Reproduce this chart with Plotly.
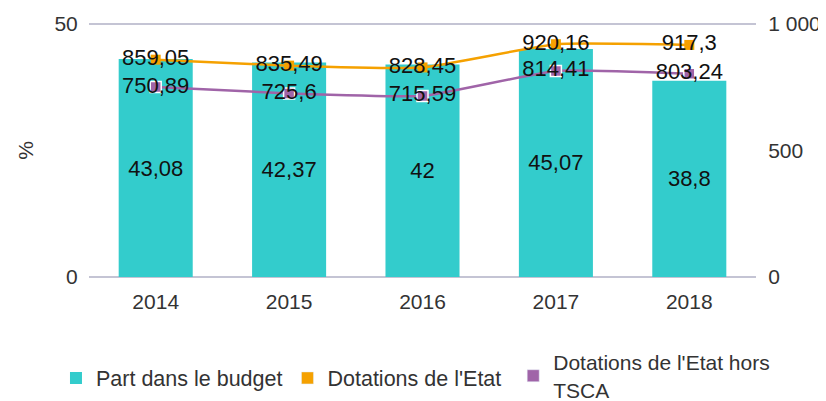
import plotly.graph_objects as go

years = ["2014", "2015", "2016", "2017", "2018"]
part_budget = [43.08, 42.37, 42, 45.07, 38.8]
dotations = [859.05, 835.49, 828.45, 920.16, 917.3]
dotations_hors_tsca = [750.89, 725.6, 715.59, 814.41, 803.24]

left_ticks = [0, 50]
right_ticks = [0, 500, 1000]
right_ticktext = ["0", "500", "1 000"]

TEAL = "#33CCCC"
ORANGE = "#F5A100"
PURPLE = "#A064A8"
FONT = "Liberation Sans, Arial, sans-serif"
TXT = "#333333"


def fr(v):
    s = ("%.2f" % v).rstrip("0").rstrip(".")
    return s.replace(".", ",")


fig = go.Figure()

fig.add_trace(go.Bar(
    x=years, y=part_budget, name="Part dans le budget",
    marker=dict(color=TEAL, line=dict(width=0)),
    text=[fr(v) for v in part_budget], textposition="inside",
    insidetextanchor="middle", textangle=0,
    textfont=dict(family=FONT, size=22, color="#111111"),
    yaxis="y", legend="legend",
))

fig.add_trace(go.Scatter(
    x=years, y=dotations, name="Dotations de l'Etat",
    mode="lines+markers+text", yaxis="y2",
    line=dict(color=ORANGE, width=2.5, shape="spline", smoothing=0.4),
    marker=dict(symbol="square", size=10, color=ORANGE),
    text=[fr(v) for v in dotations], textposition="middle center",
    textfont=dict(family=FONT, size=22, color="#111111"),
    showlegend=False, cliponaxis=False,
))

fig.add_trace(go.Scatter(
    x=years, y=dotations_hors_tsca, name="Dotations de l'Etat hors TSCA",
    mode="lines+markers+text", yaxis="y2",
    line=dict(color=PURPLE, width=2.5, shape="spline", smoothing=0.4),
    marker=dict(symbol="square", size=11, color=PURPLE,
                line=dict(color="white", width=1.5)),
    text=[fr(v) for v in dotations_hors_tsca], textposition="middle center",
    textfont=dict(family=FONT, size=22, color="#111111"),
    showlegend=False, cliponaxis=False,
))

# legend-only square swatches for the line series
fig.add_trace(go.Bar(x=[None], y=[None], name="Dotations de l'Etat",
                     marker_color=ORANGE, yaxis="y2", legend="legend"))
fig.add_trace(go.Bar(x=[None], y=[None], name="Dotations de l'Etat hors<br>TSCA",
                     marker_color=PURPLE, yaxis="y2", legend="legend2"))

# the page body adds an 8px margin, so the figure is drawn 8px smaller
fig.update_layout(
    width=818, height=393,
    margin=dict(l=81, r=70, t=15, b=123, autoexpand=False),
    paper_bgcolor="white", plot_bgcolor="white",
    barmode="overlay", bargap=0.445,
    font=dict(family=FONT, size=21, color=TXT),
    xaxis=dict(
        type="category", showgrid=False, zeroline=False, showline=False,
        ticks="outside", ticklen=5, tickcolor="rgba(0,0,0,0)",
        tickfont=dict(size=21, color=TXT),
    ),
    yaxis=dict(
        range=[-0.2, 50.2], tickvals=left_ticks, ticktext=[str(v) for v in left_ticks],
        showgrid=True, gridcolor="#C4C4D4", gridwidth=1.5, zeroline=False,
        showline=False, ticks="outside", ticklen=6, tickcolor="rgba(0,0,0,0)",
        tickfont=dict(size=21, color=TXT),
        title=dict(text="%", font=dict(size=21, color=TXT), standoff=15),
    ),
    yaxis2=dict(
        range=[-4, 1004], tickvals=right_ticks, ticktext=right_ticktext,
        overlaying="y", side="right", showgrid=False, zeroline=False,
        showline=False, ticks="outside", ticklen=7, tickcolor="rgba(0,0,0,0)",
        tickfont=dict(size=21, color=TXT),
    ),
    legend=dict(
        orientation="h", x=-0.0495, xanchor="left", y=-0.392, yanchor="middle",
        font=dict(size=21.5, color=TXT), valign="middle",
        itemwidth=30, traceorder="normal",
    ),
    legend2=dict(
        orientation="h", x=0.636, xanchor="left", y=-0.384, yanchor="middle",
        font=dict(size=21, color=TXT), valign="middle",
        itemwidth=30,
    ),
    showlegend=True,
)

fig.write_html("out.html")
